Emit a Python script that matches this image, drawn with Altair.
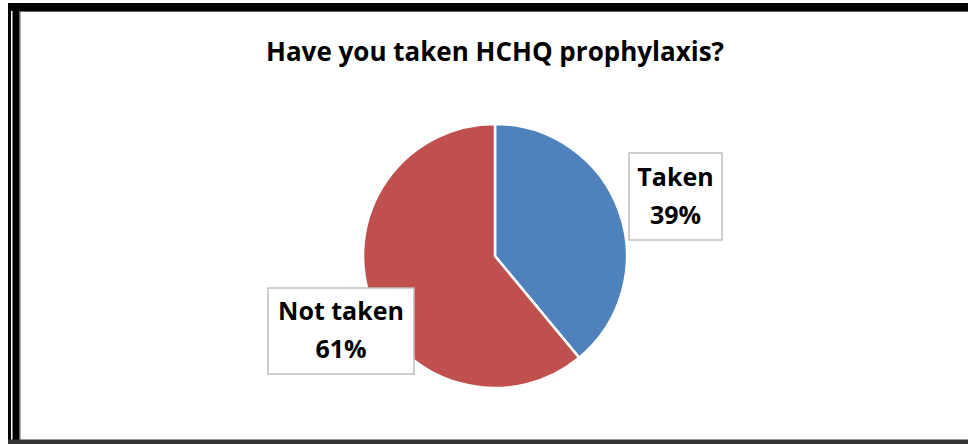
import altair as alt
import pandas as pd

# Survey answers and their shares (percent)
categories = ["Taken", "Not taken"]
shares = [39, 61]
slice_colors = ["#4F81BD", "#C0504D"]
title_text = "Have you taken HCHQ prophylaxis?"

# Layout
W, H = 968, 444
CX, CY, R = 495, 256, 132
FONT = "Open Sans"
LINE_H = 38
# label boxes: (left, top, right, bottom) in pixels
label_boxes = {
    "Taken": (629, 153, 722, 240),
    "Not taken": (268, 288, 414, 374),
}

df = pd.DataFrame({"category": categories, "share": shares,
                   "order": list(range(len(categories)))})
base = alt.Chart(df)

pie = base.mark_arc(outerRadius=R, stroke="white", strokeWidth=2.5).encode(
    theta=alt.Theta("share:Q", stack=True),
    color=alt.Color("category:N",
                    scale=alt.Scale(domain=categories, range=slice_colors),
                    legend=None),
    order=alt.Order("order:Q"),
    x=alt.value(CX),
    y=alt.value(CY),
)

layers = [pie]
for cat, (x0, y0, x1, y1) in label_boxes.items():
    sel = base.transform_filter(alt.datum.category == cat)
    box = sel.mark_rect(fill="white", stroke="#BFBFBF", strokeWidth=1.5).encode(
        x=alt.value(x0), x2=alt.value(x1), y=alt.value(y0), y2=alt.value(y1)
    )
    txt = sel.transform_calculate(
        label="datum.category + '\\n' + format(datum.share, 'd') + '%'"
    ).mark_text(
        font=FONT, fontSize=25, fontWeight="bold", color="black",
        lineBreak="\n", lineHeight=LINE_H, align="center", baseline="middle",
    ).encode(
        text="label:N",
        x=alt.value((x0 + x1) / 2),
        y=alt.value((y0 + y1) / 2 - LINE_H / 2),
    )
    layers += [box, txt]

# Frame around the chart
frame_df = pd.DataFrame({"k": [0]})
frame = alt.Chart(frame_df)
frame_parts = [
    ((8, 968, 3, 11), "black"),
    ((8, 11, 3, 444), "black"),
    ((12.5, 19, 3, 444), "black"),
    ((19, 20.5, 11, 440), "#666666"),
    ((19, 968, 11, 12), "#666666"),
    ((8, 968, 439.5, 444), "#333333"),
]
for (x0, x1, y0, y1), col in frame_parts:
    layers.append(frame.mark_rect(color=col).encode(
        x=alt.value(x0), x2=alt.value(x1), y=alt.value(y0), y2=alt.value(y1)
    ))

chart = alt.layer(*layers).properties(
    width=W,
    height=H,
    autosize=alt.AutoSizeParams(type="none"),
    padding=0,
    background="white",
    title=alt.TitleParams(
        title_text, font=FONT, fontSize=26, fontWeight="bold", color="black",
        anchor="middle", frame="group", orient="top", offset=0,
        baseline="middle", dx=11, dy=79,
    ),
).configure_view(stroke=None)

chart.save("out.html", embed_options={"renderer": "svg", "actions": False})
